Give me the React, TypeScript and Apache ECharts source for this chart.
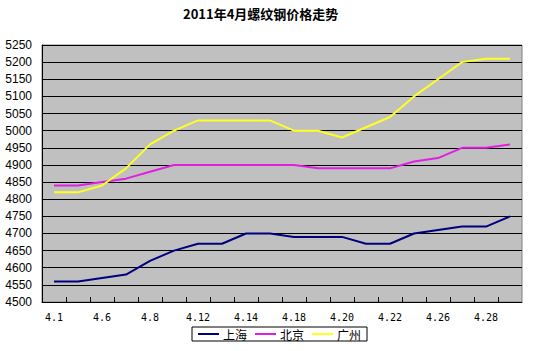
import React, { useEffect, useRef } from "react";
import * as echarts from "echarts";

const categories = [
  "4.1", "4.2", "4.6", "4.7", "4.8", "4.11", "4.12", "4.13", "4.14", "4.15",
  "4.18", "4.19", "4.20", "4.21", "4.22", "4.25", "4.26", "4.27", "4.28", "4.29",
];
const shanghai = [4560, 4560, 4570, 4580, 4620, 4650, 4670, 4670, 4700, 4700, 4690, 4690, 4690, 4670, 4670, 4700, 4710, 4720, 4720, 4750];
const beijing = [4840, 4840, 4850, 4860, 4880, 4900, 4900, 4900, 4900, 4900, 4900, 4890, 4890, 4890, 4890, 4910, 4920, 4950, 4950, 4960];
const guangzhou = [4820, 4820, 4840, 4890, 4960, 5000, 5030, 5030, 5030, 5030, 5000, 5000, 4980, 5010, 5040, 5100, 5150, 5200, 5210, 5210];
const seriesNames = ["上海", "北京", "广州"];
const titleText = "2011年4月螺纹钢价格走势";
const yMin = 4500;

export default function App() {
  const ref = useRef<HTMLDivElement>(null);
  useEffect(() => {
    if (!ref.current) return;
    const chart = echarts.init(ref.current, undefined, { renderer: "svg" });
    const colors = ["#000080", "#E020E0", "#FFFF20"];
    const data = [shanghai, beijing, guangzhou];
    chart.setOption({
      animation: false,
      backgroundColor: "#ffffff",
      title: {
        text: titleText,
        left: 183,
        top: 7,
        padding: 0,
        textStyle: {
          fontSize: 13,
          fontWeight: "bold",
          color: "#000",
          fontFamily: "Noto Sans CJK SC",
        },
      },
      grid: {
        left: 42,
        right: 11,
        top: 45,
        bottom: 49,
        show: true,
        backgroundColor: "#C0C0C0",
        borderColor: "#808080",
        borderWidth: 1,
      },
      legend: {
        left: 192,
        top: 327,
        padding: [1, 6],
        itemGap: 8,
        itemWidth: 21,
        itemHeight: 2,
        icon: "rect",
        borderColor: "#000",
        borderWidth: 1,
        textStyle: { fontSize: 12, color: "#000", fontFamily: "Noto Sans CJK SC", padding: [0, 0, 0, -1] },
        data: seriesNames,
      },
      xAxis: {
        type: "category",
        data: categories,
        boundaryGap: true,
        axisLine: { show: true, onZero: false, lineStyle: { color: "#000", width: 1 } },
        axisTick: { show: false },
        axisLabel: {
          interval: 1,
          margin: 10,
          color: "#000",
          fontSize: 10,
          fontFamily: "DejaVu Sans Mono",
        },
        splitLine: { show: false },
      },
      yAxis: {
        type: "value",
        min: yMin,
        max: 5250,
        interval: 50,
        axisLine: { show: true, lineStyle: { color: "#000", width: 1 } },
        axisTick: { show: false },
        axisLabel: {
          margin: 10,
          color: "#000",
          fontSize: 12,
          fontFamily: "Liberation Sans",
          formatter: (v: number) => String(v),
        },
        splitLine: { show: true, lineStyle: { color: "#000", width: 1 } },
      },
      series: [
        ...seriesNames.map((name, i) => ({
          name,
          type: "line",
          data: data[i],
          showSymbol: false,
          symbol: "none",
          color: colors[i],
          lineStyle: { color: colors[i], width: 2 },
          z: 5,
        })),
        {
          type: "custom",
          name: "ticks",
          silent: true,
          clip: false,
          z: 6,
          data: categories.map((_, i) => [i, yMin]),
          renderItem: (params: any, api: any) => {
            const p = api.coord([api.value(0), api.value(1)]);
            const bw = api.size([1, 0])[0];
            const x = Math.round(p[0] - bw / 2) + 0.5;
            const y = p[1];
            return {
              type: "line",
              shape: { x1: x, y1: y, x2: x, y2: y - 5 },
              style: { stroke: "#000", lineWidth: 1 },
            };
          },
        },
      ],
    });
    return () => chart.dispose();
  }, []);
  return <div ref={ref} style={{ width: 533, height: 351, position: "absolute", left: 0, top: 0 }} />;
}
